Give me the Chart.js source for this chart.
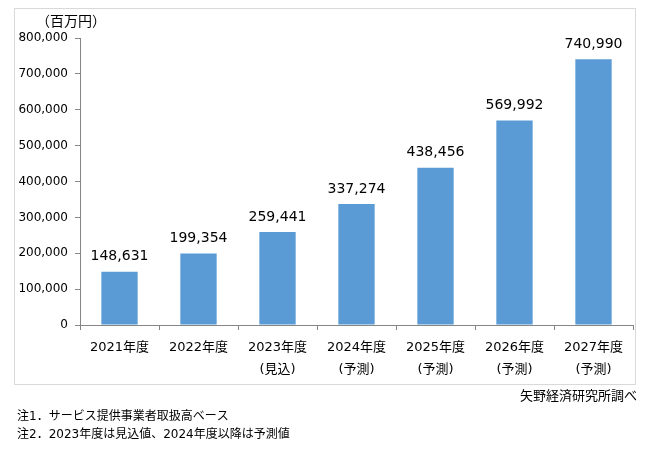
<!DOCTYPE html>
<html>
<head>
<meta charset="utf-8">
<script src="https://cdn.jsdelivr.net/npm/chart.js@4/dist/chart.umd.min.js"></script>
<style>
html,body{margin:0;padding:0;background:#fff;}
#wrap{position:relative;width:647px;height:468px;}
</style>
</head>
<body>
<div id="wrap"><canvas id="c" width="647" height="468"></canvas></div>
<script>
const categories = [["2021年度"],["2022年度"],["2023年度","(見込)"],["2024年度","(予測)"],["2025年度","(予測)"],["2026年度","(予測)"],["2027年度","(予測)"]];
const values = [148631, 199354, 259441, 337274, 438456, 569992, 740990];
const unitLabel = "（百万円）";
const sourceText = "矢野経済研究所調べ";
const notes = ["注1．サービス提供事業者取扱高ベース", "注2．2023年度は見込値、2024年度以降は予測値"];

const FONT = "'DejaVu Sans','Noto Sans CJK JP',sans-serif";
const fmt = v => Number(v).toLocaleString('en-US');

const extras = {
  id: 'extras',
  afterDraw(chart) {
    const ctx = chart.ctx;
    ctx.save();
    // frame
    ctx.strokeStyle = '#d9d9d9';
    ctx.lineWidth = 1;
    ctx.strokeRect(14.5, 8.5, 621, 376);
    // data labels
    const meta = chart.getDatasetMeta(0);
    ctx.fillStyle = '#000';
    ctx.font = '14px ' + FONT;
    ctx.textAlign = 'center';
    ctx.textBaseline = 'middle';
    meta.data.forEach((bar, i) => {
      ctx.fillText(fmt(values[i]), bar.x, bar.y - 15);
    });
    // unit
    ctx.font = '14px ' + FONT;
    ctx.textAlign = 'left';
    ctx.fillText(unitLabel, 36, 22);
    // source
    ctx.textAlign = 'right';
    ctx.font = '13px ' + FONT;
    ctx.fillText(sourceText, 637, 397);
    // notes
    ctx.textAlign = 'left';
    ctx.font = '12px ' + FONT;
    ctx.fillText(notes[0], 17, 417);
    ctx.fillText(notes[1], 17, 435);
    ctx.restore();
  }
};

new Chart(document.getElementById('c'), {
  type: 'bar',
  data: {
    labels: categories,
    datasets: [{
      data: values,
      backgroundColor: '#5b9bd5',
      borderWidth: 0,
      categoryPercentage: 1,
      barPercentage: 0.46
    }]
  },
  options: {
    responsive: false,
    animation: false,
    devicePixelRatio: 1,
    layout: { padding: { top: 38, right: 14, left: 0, bottom: 0 } },
    plugins: { legend: { display: false }, tooltip: { enabled: false } },
    scales: {
      x: {
        grid: { drawOnChartArea: false, tickLength: 5, color: '#868686', offset: true },
        border: { color: '#868686' },
        ticks: { color: '#000', padding: 7, maxRotation: 0, autoSkip: false,
                 font: { family: FONT, size: 13, lineHeight: 22/13 } },
        afterFit(s) { s.height = 143; }
      },
      y: {
        min: 0, max: 800000,
        grid: { drawOnChartArea: false, tickLength: 5, color: '#868686' },
        border: { color: '#868686' },
        ticks: { stepSize: 100000, color: '#000', padding: 7,
                 font: { family: FONT, size: 12 },
                 callback: v => fmt(v) },
        afterFit(s) { s.width = 80; }
      }
    }
  },
  plugins: [extras]
});
</script>
</body>
</html>
